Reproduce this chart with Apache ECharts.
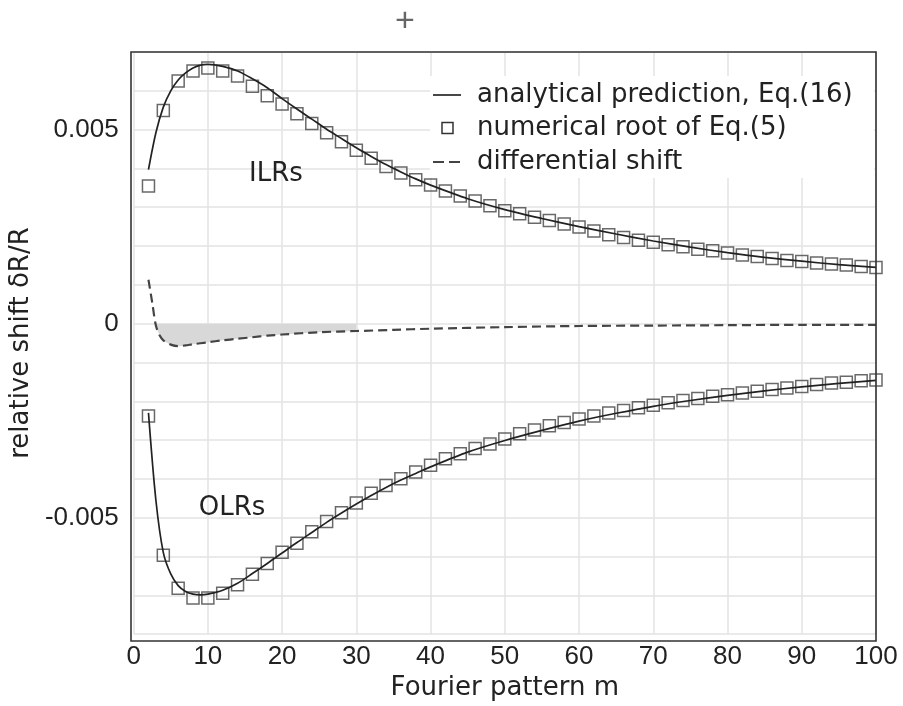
<!DOCTYPE html>
<html>
<head>
<meta charset="utf-8">
<script src="https://cdn.jsdelivr.net/npm/echarts@6/dist/echarts.min.js"></script>
<style>
  html, body { margin: 0; padding: 0; background: #fff; }
  #chart { width: 903px; height: 706px; }
</style>
</head>
<body>
<div id="chart"></div>
<script>
// values of dR/R are kept in units of 1e-3
var ilrLineM = [2, 3, 4, 5, 6, 7, 8, 9, 10, 12, 14, 16, 18, 20, 22, 24, 26, 28, 30, 32, 34, 36, 38, 40, 45, 50, 55, 60, 65, 70, 75, 80, 85, 90, 95, 100];
var ilrLineV = [3.97, 4.92, 5.58, 6.00, 6.28, 6.46, 6.59, 6.66, 6.68, 6.63, 6.51, 6.31, 6.08, 5.80, 5.53, 5.27, 5.01, 4.77, 4.53, 4.31, 4.10, 3.91, 3.73, 3.57, 3.22, 2.94, 2.71, 2.50, 2.31, 2.13, 1.97, 1.83, 1.71, 1.61, 1.52, 1.45];

var olrLineM = ilrLineM;
var olrLineV = [-2.30, -4.55, -5.90, -6.45, -6.75, -6.90, -6.97, -6.99, -6.97, -6.87, -6.69, -6.44, -6.18, -5.91, -5.64, -5.38, -5.12, -4.88, -4.65, -4.43, -4.22, -4.03, -3.86, -3.69, -3.31, -3.01, -2.75, -2.51, -2.31, -2.13, -1.98, -1.85, -1.73, -1.63, -1.54, -1.46];

var rootM = [2, 4, 6, 8, 10, 12, 14, 16, 18, 20, 22, 24, 26, 28, 30, 32, 34, 36, 38, 40, 42, 44, 46, 48, 50,
             52, 54, 56, 58, 60, 62, 64, 66, 68, 70, 72, 74, 76, 78, 80, 82, 84, 86, 88, 90, 92, 94, 96, 98, 100];
var ilrRootV = [3.55, 5.49, 6.25, 6.51, 6.59, 6.51, 6.38, 6.12, 5.87, 5.66, 5.41, 5.16, 4.92, 4.69, 4.47, 4.26, 4.05, 3.88, 3.71, 3.57, 3.42, 3.29, 3.16, 3.04, 2.91,
                2.83, 2.74, 2.66, 2.57, 2.49, 2.39, 2.29, 2.22, 2.15, 2.10, 2.03, 1.98, 1.92, 1.88, 1.82, 1.77, 1.73, 1.68, 1.63, 1.60, 1.56, 1.54, 1.51, 1.47, 1.45];
var olrRootV = [-2.38, -5.97, -6.82, -7.07, -7.07, -6.95, -6.73, -6.46, -6.18, -5.89, -5.66, -5.36, -5.10, -4.87, -4.62, -4.37, -4.17, -4.00, -3.82, -3.65, -3.48, -3.35, -3.22, -3.10, -2.97,
                -2.84, -2.74, -2.63, -2.55, -2.46, -2.38, -2.30, -2.24, -2.17, -2.10, -2.04, -1.98, -1.93, -1.87, -1.83, -1.79, -1.74, -1.70, -1.66, -1.62, -1.57, -1.53, -1.51, -1.47, -1.45];

var diffM = [2, 2.5, 3, 3.5, 4, 5, 6, 7, 8, 10, 12, 14, 16, 18, 20, 25, 30, 35, 40, 50, 60, 70, 80, 90, 100];
var diffV = [1.13, 0.55, -0.05, -0.30, -0.43, -0.54, -0.58, -0.56, -0.53, -0.48, -0.43, -0.39, -0.35, -0.31, -0.28, -0.22, -0.19, -0.16, -0.13, -0.09, -0.06, -0.05, -0.04, -0.03, -0.03];

var xTicks = [0, 10, 20, 30, 40, 50, 60, 70, 80, 90, 100];
var yLabelValues = [-0.005, 0, 0.005];

var nameLine = 'analytical prediction, Eq.(16)';
var nameRoot = 'numerical root of Eq.(5)';
var nameDiff = 'differential shift';

var tickFont = '"Liberation Sans", Arial, Helvetica, sans-serif';
var textFont = '"DejaVu Sans", Verdana, sans-serif';
var ink = '#222';

function pairs(ms, vs) {
  return ms.map(function (m, i) { return [m, vs[i] * 1e-3]; });
}

// shaded part under the differential shift (negative part only)
var fillData = pairs(diffM, diffV).filter(function (p) { return p[1] <= 0 && p[0] <= 30; });

var chart = echarts.init(document.getElementById('chart'), null, {renderer: 'canvas'});

// legend drawn by hand (three different key shapes)
var legendX = 433, legendTextX = 477, legendRows = [95, 128, 162];
function legendText(i, txt) {
  return {type: 'text', x: legendTextX, y: legendRows[i], z: 41,
          style: {text: txt, fontFamily: textFont, fontSize: 26, fill: ink, verticalAlign: 'middle'}};
}

var option = {
  backgroundColor: '#fff',
  animation: false,
  grid: {left: 131, right: 27, top: 52, bottom: 65},
  xAxis: {
    type: 'value',
    min: 0,
    max: 100,
    interval: 10,
    name: 'Fourier pattern m',
    nameLocation: 'middle',
    nameGap: 35,
    nameTextStyle: {fontFamily: textFont, fontSize: 26, color: ink},
    axisLine: {show: false},
    axisTick: {show: false},
    axisLabel: {
      fontFamily: tickFont, fontSize: 26, color: ink, margin: 10,
      formatter: function (v) { return xTicks.indexOf(v) >= 0 ? String(v) : ''; }
    },
    splitLine: {show: true, lineStyle: {color: '#e3e3e3', width: 1.5}}
  },
  yAxis: {
    type: 'value',
    min: -0.008,
    max: 0.007,
    interval: 0.001,
    name: 'relative shift \u03b4R/R',
    nameLocation: 'middle',
    nameGap: 82,
    nameTextStyle: {fontFamily: textFont, fontSize: 26, color: ink},
    axisLine: {show: false},
    axisTick: {show: false},
    axisLabel: {
      fontFamily: tickFont, fontSize: 26, color: ink, margin: 15,
      formatter: function (v) {
        var k = Math.round(v * 1000);
        for (var i = 0; i < yLabelValues.length; i++) {
          if (Math.round(yLabelValues[i] * 1000) === k) {
            return k === 0 ? '0' : (k / 1000).toFixed(3);
          }
        }
        return '';
      }
    },
    splitLine: {show: true, lineStyle: {color: '#e3e3e3', width: 1.5}}
  },
  graphic: [
    {type: 'rect', shape: {x: 131, y: 52, width: 745, height: 589}, style: {fill: 'none', stroke: '#333', lineWidth: 1.6}, z: 50, silent: true},
    {type: 'text', x: 276, y: 174, style: {text: 'ILRs', fontFamily: textFont, fontSize: 26, fill: ink, align: 'center', verticalAlign: 'middle'}, z: 60},
    {type: 'text', x: 232, y: 508, style: {text: 'OLRs', fontFamily: textFont, fontSize: 26, fill: ink, align: 'center', verticalAlign: 'middle'}, z: 60},
    {type: 'text', x: 405, y: 22, style: {text: '+', fontFamily: tickFont, fontSize: 34, fill: '#666', align: 'center', verticalAlign: 'middle'}, z: 60},
    {type: 'rect', z: 40, shape: {x: 430, y: 76, width: 444, height: 102}, style: {fill: '#fff'}},
    {type: 'line', z: 41, shape: {x1: legendX, y1: legendRows[0], x2: legendX + 28, y2: legendRows[0]}, style: {stroke: '#333', lineWidth: 1.8}},
    {type: 'rect', z: 41, shape: {x: legendX + 9, y: legendRows[1] - 5.5, width: 11, height: 11}, style: {fill: 'none', stroke: '#333', lineWidth: 1.5}},
    {type: 'line', z: 41, shape: {x1: legendX, y1: legendRows[2], x2: legendX + 28, y2: legendRows[2]}, style: {stroke: '#444', lineWidth: 2.2, lineDash: [11, 5]}},
    legendText(0, nameLine),
    legendText(1, nameRoot),
    legendText(2, nameDiff)
  ],
  series: [
    {
      type: 'line',
      data: fillData,
      smooth: 0.3,
      showSymbol: false,
      lineStyle: {width: 0},
      areaStyle: {color: '#d8d8d8', opacity: 1},
      z: 1,
      silent: true
    },
    {
      name: nameDiff,
      type: 'line',
      data: pairs(diffM, diffV),
      smooth: 0.3,
      showSymbol: false,
      lineStyle: {color: '#444', width: 2.2, type: [9, 5]},
      z: 3
    },
    {
      name: nameRoot,
      type: 'scatter',
      data: pairs(rootM, ilrRootV),
      symbol: 'rect',
      symbolSize: 12,
      itemStyle: {color: 'rgba(0,0,0,0)', borderColor: '#444', borderWidth: 1.5},
      z: 4
    },
    {
      name: nameRoot,
      type: 'scatter',
      data: pairs(rootM, olrRootV),
      symbol: 'rect',
      symbolSize: 12,
      itemStyle: {color: 'rgba(0,0,0,0)', borderColor: '#444', borderWidth: 1.5},
      z: 4
    },
    {
      name: nameLine,
      type: 'line',
      data: pairs(ilrLineM, ilrLineV),
      smooth: 0.3,
      showSymbol: false,
      lineStyle: {color: '#222', width: 1.7},
      z: 5
    },
    {
      name: nameLine,
      type: 'line',
      data: pairs(olrLineM, olrLineV),
      smooth: 0.3,
      showSymbol: false,
      lineStyle: {color: '#222', width: 1.7},
      z: 5
    }
  ]
};

chart.setOption(option);
</script>
</body>
</html>
